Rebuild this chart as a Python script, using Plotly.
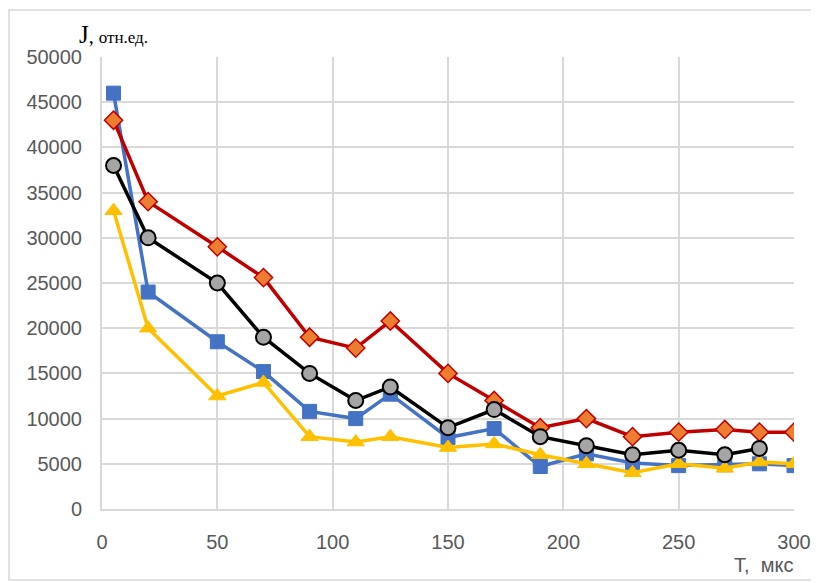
import plotly.graph_objects as go

t_us = [5, 20, 50, 70, 90, 110, 125, 150, 170, 190, 210, 230, 250, 270, 285, 300]
t_us_black = [5, 20, 50, 70, 90, 110, 125, 150, 170, 190, 210, 230, 250, 270, 285]

blue_vals = [46000, 24000, 18500, 15200, 10800, 10000, 12700, 7900, 8900, 4700, 6100, 5100, 4800, 4900, 5000, 4800]
red_vals = [43000, 34000, 29000, 25600, 19000, 17800, 20800, 15000, 12000, 9000, 10000, 8000, 8500, 8800, 8500, 8500]
yellow_vals = [33000, 20000, 12500, 14000, 8000, 7400, 8000, 6800, 7200, 6000, 5000, 4000, 5000, 4500, 5200, 5000]
black_vals = [38000, 30000, 25000, 19000, 15000, 12000, 13500, 9000, 11000, 8000, 7000, 6000, 6500, 6000, 6700]

y_ticks = [0, 5000, 10000, 15000, 20000, 25000, 30000, 35000, 40000, 45000, 50000]
y_tick_labels = [str(v) for v in y_ticks]
x_ticks = [0, 50, 100, 150, 200, 250, 300]
x_tick_labels = [str(v) for v in x_ticks]

fig = go.Figure()
fig.add_trace(go.Scatter(x=t_us, y=blue_vals, mode="lines+markers",
                         line=dict(color="#4472C4", width=3.5),
                         marker=dict(symbol="square", size=14, color="#4472C4",
                                     line=dict(color="#4472C4", width=1))))
fig.add_trace(go.Scatter(x=t_us, y=red_vals, mode="lines+markers",
                         line=dict(color="#C00000", width=3.5),
                         marker=dict(symbol="diamond", size=14, color="#ED7D31",
                                     line=dict(color="#C00000", width=1.5))))
fig.add_trace(go.Scatter(x=t_us, y=yellow_vals, mode="lines+markers",
                         line=dict(color="#FFC000", width=3.5),
                         marker=dict(symbol="triangle-up", size=15, color="#FFC000",
                                     line=dict(color="#FFC000", width=1))))
fig.add_trace(go.Scatter(x=t_us_black, y=black_vals, mode="lines+markers",
                         line=dict(color="#000000", width=3.5),
                         marker=dict(symbol="circle", size=15, color="#A5A5A5",
                                     line=dict(color="#000000", width=2))))

fig.update_layout(
    width=811, height=575,
    margin=dict(l=94, r=25, t=49, b=74, autoexpand=False),
    paper_bgcolor="white", plot_bgcolor="white",
    showlegend=False,
    font=dict(family="Liberation Sans, Arial, sans-serif", size=20, color="#595959"),
)
fig.update_xaxes(range=[0, 300], tickvals=x_ticks, ticktext=x_tick_labels, showgrid=True,
                 gridcolor="#D9D9D9", gridwidth=2, zeroline=False, showline=True,
                 linecolor="#D9D9D9", linewidth=2,
                 ticks="outside", ticklen=14, tickcolor="rgba(0,0,0,0)",
                 tickfont=dict(size=20, color="#595959"))
fig.update_yaxes(range=[0, 50000], tickvals=y_ticks, ticktext=y_tick_labels, showgrid=True,
                 gridcolor="#D9D9D9", gridwidth=2, zeroline=False, showline=True,
                 linecolor="#D9D9D9", linewidth=2,
                 ticks="outside", ticklen=14, tickcolor="rgba(0,0,0,0)",
                 tickfont=dict(size=20, color="#595959"))

fig.add_annotation(xref="paper", yref="paper", x=-0.036, y=1.015, xanchor="left", yanchor="bottom",
                   text="<span style='font-size:25px'>J</span>, <span style='font-size:17px'>отн.ед.</span>",
                   showarrow=False, font=dict(family="Liberation Serif, Times New Roman, serif", color="#000000"))
fig.add_annotation(xref="paper", yref="paper", x=1.002, y=-0.124, xanchor="right", yanchor="middle",
                   text="Т,  мкс", showarrow=False,
                   font=dict(size=20, color="#595959"))

fig.add_shape(type="rect", xref="paper", yref="paper",
              x0=(9 - 102) / 692, x1=(840 - 102) / 692, y0=(509 - 580) / 452, y1=(509 - 10) / 452,
              line=dict(color="#D9D9D9", width=1.5), fillcolor="rgba(0,0,0,0)", layer="below")

fig.write_html("out.html")
